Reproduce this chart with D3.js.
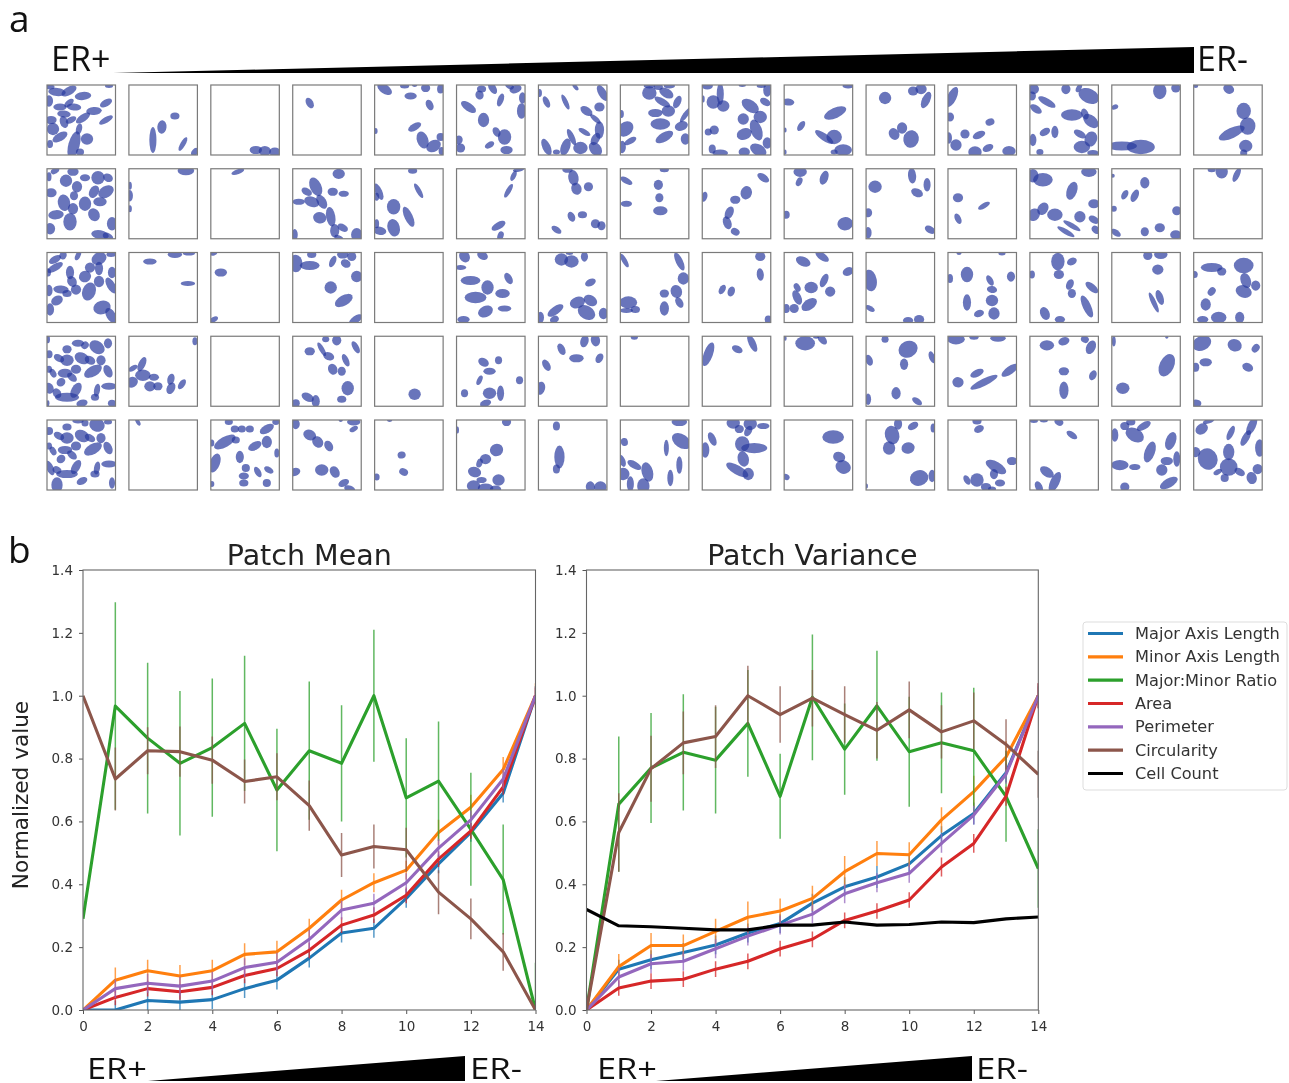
<!DOCTYPE html>
<html>
<head>
<meta charset="utf-8">
<script src="https://cdn.jsdelivr.net/npm/d3@7"></script>
<style>
    body { margin: 0; background: #fff; }
    svg { display: block; filter: blur(0.4px); }
    .tickText { font-family: "DejaVu Sans"; font-size: 13.5px; fill: #333; }
    .plotTitle { font-family: "DejaVu Sans"; font-size: 28.5px; fill: #222; }
    .yTitle { font-family: "DejaVu Sans"; font-size: 21.6px; fill: #222; }
    .legendText { font-family: "DejaVu Sans"; font-size: 16.2px; fill: #333; }
    .erText { font-family: "Open Sans"; font-size: 34px; fill: #111; }
    .erTextSmall { font-family: "Open Sans"; font-size: 30px; fill: #111; }
    .panelLetter { font-family: "Open Sans"; font-size: 37px; fill: #111; }
</style>
</head>
<body>
<div id="chart"></div>
<script>
'use strict';

// patch ellipses, one list per row, one list per patch: [cx, cy, semi axis a, semi axis b, rotation]
// in patch units (a patch is 70 units wide)
const patchRow0 = [
    [[10,7,8,3.5,5],[22,6,7.5,3.5,-30],[3,2,4,2,0],[2,16,3.5,5,0],[36,11,7.5,3.5,-5],[59,18,6,3,-30],[22,18,5,2.5,-40],[13,22,6,3,0],[27,22,6.5,3,5],[47,26,7,3.5,-5],[17,29,6,3,5],[36,33,7.5,3,-35],[24,35,5,2.5,-25],[17,37,5.5,3.5,70],[4,35,5,3.5,0],[59,35,7,2.5,-30],[6,44,5.5,5.5,0],[32,44,5,2.5,-75],[13,52,7.5,3.5,-30],[40,54,5.5,5,0],[27,60,13,5,-75],[3,59,2.5,3.5,0],[33,67,3.5,3,0],[62,1,3.5,1.5,0]],
    [[46,31,4,3,0],[33,42,4,6,5],[24,55,12,3,90],[54,59,7,2,-60],[66,67,4,2.5,-50]],
    [[45,65,5.5,3.5,0],[54,66,5.5,4.5,0],[64,67,5,4,0]],
    [[17,18,5,3,60]],
    [[10,4,7.5,4,35],[30,1,4,2,0],[40,0.5,2,1,0],[51,3,4,3.5,0],[66,4,3,4,0],[36,11,5.5,3,0],[55,20,5,3,65],[40,42,6.5,3,-30],[1,46,1.5,2.5,0],[48,55,8,5,70],[66,52,3.5,3.5,0],[59,61,7,5,-30],[67,66,2.5,3.5,0]],
    [[25,4,4,3,0],[36,3,6,3,60],[23,10,4,3.5,70],[53,1,4,2.5,30],[59,4,5.5,3.5,-20],[66,13,3,5,0],[12,22,8,3.5,35],[44,15,6,2.5,-70],[65,26,4,7,0],[27,35,5,6.5,0],[40,47,4.5,3,60],[48,52,6,7,0],[2,55,3.5,4,20],[4,63,4,4,0],[33,60,4.5,2.5,-30],[50,65,5.5,3.5,0]],
    [[37,2,3.5,1.5,50],[1,8,2,3.5,0],[8,17,5.5,2.5,65],[27,17,7.5,2,65],[64,8,8,3.5,60],[61,22,4.5,4,0],[48,26,6,3.5,35],[57,34,6,2,40],[61,45,8,4,90],[46,47,6,2,30],[33,52,8,2.5,65],[57,54,6,3.5,-60],[8,62,8,3.5,65],[27,62,8,4,-70],[18,67,3,2,0],[42,63,6.5,5.5,0],[57,64,7,5,50]],
    [[29,1,5,2,0],[38,2,4,2.5,0],[49,1,5,2,0],[29,8,6.5,6,0],[46,8,7,4,30],[42,17,8,3,30],[57,17,6,3,-65],[35,28,6.5,3.5,0],[48,26,6,5,0],[1,29,2,3.5,0],[65,30,8,2,-55],[40,39,9,5,0],[61,41,6,4,-20],[5,44,8,6,-40],[44,52,9,4,-30],[65,54,4,5,0],[10,56,6,2.5,-30],[2,62,3,5.5,0]],
    [[5,1,5,3,0],[18,9,10,3,90],[11,17,6,6,0],[21,21,5.5,5,0],[1,14,1,3,0],[40,0.5,3,1,0],[59,1,4,1.5,0],[65,5,3.5,6,0],[63,17,5,3,30],[48,21,9,5,35],[41,34,5,5,0],[58,32,6,5.5,0],[54,45,10,5,70],[42,49,7,5,-20],[6,47,3,3,0],[12,45,4,4,0],[65,58,4,5,0],[10,64,3,4,0],[18,68,7,3,0],[42,67,5,4,0],[56,65,8,5,30]],
    [[64,1,5,2,0],[4,17,5.5,3,5],[51,28,11,4.5,-25],[17,41,5,2.5,-55],[1,45,1,2,0],[40,52,10,3,35],[50,52,7,6.5,0],[59,65,8,5,0],[50,67,3,2,0],[1,67,1,2,0]],
    [[19,13,5.5,5.5,0],[47,6,4.5,4,0],[55,4,5,4.5,0],[60,15,8,3.5,-65],[28,49,5.5,4.5,60],[36,43,4.5,5,0],[45,54,7,8,10]],
    [[4,12,10,4,-65],[2,32,3.5,4,0],[42,37,4,3,-20],[17,49,4,4,0],[31,50,6,3,-25],[1,53,2.5,5,0],[8,60,5,5,0],[27,67,6,5,0],[40,63,5,3,-25],[61,66,6,4.5,0]],
    [[4,4,4.5,4.5,0],[36,4,4,4.5,0],[49,3,4,2,-60],[59,11,10,6.5,25],[2,11,3.5,4,0],[17,17,9,3,30],[6,24,6,3,35],[42,30,10,5,0],[55,29,3,5,-20],[61,36,8,5,40],[15,47,5,3,-30],[25,47,3,5.5,0],[50,49,6,3,30],[61,54,5.5,7,20],[3,55,3,5.5,0],[52,62,7.5,5.5,0],[10,67,3,2.5,0],[63,68,5,2.5,0]],
    [[48,6,6,7.5,0],[64,3,4,4,0],[3,22,3,2,-20],[10,61,14,4,0],[29,62,13,6.5,0]],
    [[2,1,2,1.5,0],[35,4,5,4,30],[50,26,6.5,7.5,0],[54,41,7,8,0],[38,48,13,4.5,-25],[52,61,6,5.5,0],[50,68,3,3,0]]
];
const patchRow1 = [
    [[8,2,4,2.5,-30],[26,3,5,3.5,0],[2,8,2,4,0],[19,12,5.5,5.5,0],[38,9,4.5,3,0],[51,9,6,6,0],[61,9,4.5,3.5,30],[4,24,5,4,0],[30,18,4.5,5,0],[27,27,3.5,4,0],[47,23,6,4,-60],[59,23,7.5,5,-30],[17,34,5.5,7.5,-10],[38,35,5.5,6.5,0],[53,33,6,4,0],[26,40,4.5,5,0],[47,46,6,5,60],[9,46,7,4,-5],[23,53,6,8,0],[65,55,4.5,6,0],[3,60,4.5,5,0],[53,66,8,4,10],[61,68,5,3,30]],
    [[1,17,1.5,3.5,0],[1,27,2.5,5,0],[1,40,1.5,3,0],[57,2,7.5,4,0]],
    [[27,3,6,2,-20]],
    [[46,5,5.5,4.5,0],[23,18,9,5,65],[14,23,5,3,30],[40,23,4.5,3.5,0],[51,25,4.5,2.5,0],[6,33,5.5,2.5,0],[19,33,7,4.5,20],[29,33,7,4,60],[27,49,6,5,15],[38,48,9,4,80],[42,62,4,6,0],[50,59,5,3,30],[64,66,5,6,0],[2,66,2.5,5,0],[46,69,4,2,20]],
    [[38,2,4,2.5,0],[44,22,7.5,2,60],[4,23,8,3,65],[2,28,2,3.5,0],[19,38,6,7,0],[34,48,10,3.5,65],[2,55,2,4,0],[5,62,6,3.5,10],[19,59,5.5,8,-15]],
    [[62,1,5,1.5,-10],[57,7,5,2,-65],[52,22,7,2,-60],[42,57,7,3,-30],[44,67,4,2.5,-70]],
    [[29,1,4.5,2.5,0],[35,9,7,4.5,80],[38,20,5.5,4.5,70],[50,18,4,4,0],[33,48,4.5,3,65],[44,46,4,3,0],[57,55,4,4,0],[63,57,3.5,4,0],[18,61,5,2.5,35]],
    [[44,1,4,2,0],[6,12,6,2.5,30],[38,16,4,4.5,0],[39,29,3.5,4,0],[6,35,5,2.5,0],[40,42,6.5,4,0]],
    [[61,9,6,3,35],[44,24,5,6,15],[33,31,4.5,3.5,0],[2,28,2.5,4.5,15],[27,44,6,3.5,-65],[25,54,6,3.5,70],[33,63,4,3,30]],
    [[16,3,6,4.5,0],[15,13,4,2.5,-65],[40,9,6.5,3.5,-70],[2,46,3,3.5,0],[61,55,7,6,-10]],
    [[46,7,7,3.5,85],[61,16,6,3,90],[9,18,6,5.5,0],[51,24,5.5,3.5,25],[2,44,3.5,4,0],[64,61,5,3,30],[2,64,3,5,0]],
    [[10,29,4.5,4,0],[36,37,6,2,-30],[10,50,5,2.5,65]],
    [[3,7,5,6,0],[13,11,9,6,0],[59,3,7,4.5,0],[42,22,8.5,4.5,-70],[64,35,5,4,0],[13,40,6,4.5,-55],[4,46,6,5,-50],[25,46,7,5.5,0],[50,48,5,5,0],[64,51,5,3,30],[42,57,9,2,30],[36,63,9,2,30],[66,61,4,3,40]],
    [[1,7,1.5,1.5,0],[33,14,4,5,0],[13,26,4.5,2.5,-60],[23,27,6,3,-65],[2,40,2.5,2.5,0],[65,42,4,4,0],[48,59,4.5,4,0],[33,63,3.5,4,0],[4,64,5,2.5,35],[64,66,5,4,0]],
    [[18,1,3.5,2,0],[28,3,5.5,6,0],[43,6,7,2.5,-65]]
];
const patchRow2 = [
    [[16,3,3,3.5,20],[31,3,4.5,2,-65],[8,7,6,3,-30],[8,15,8,3,-30],[1,20,2.5,3.5,0],[52,6,7,5.5,-30],[64,2,4,2,0],[43,15,4.5,4.5,0],[52,16,3.5,6,0],[65,20,3.5,5,0],[23,20,3.5,6,0],[25,29,5,4,60],[38,24,5.5,5,-30],[52,29,4.5,5,0],[64,33,8,3.5,60],[14,37,7,3.5,5],[20,41,4,3,0],[29,37,4.5,4.5,0],[2,38,3,5,0],[42,39,8.5,6,-70],[10,48,5.5,4,-30],[3,57,3.5,5.5,0],[55,55,8,6,-15],[64,63,7.5,4,60]],
    [[21,9,6,2.5,0],[46,2,6.5,3,0],[60,1,5.5,1.5,0],[59,31,6.5,2,0]],
    [[3,1,3,1.5,-15],[10,20,5.5,3.5,0],[3,67,4,2,-30]],
    [[3,11,6,8,0],[17,13,9,4,0],[19,2,4,3,0],[40,9,5.5,2.5,-65],[50,2,5,3.5,0],[53,11,4.5,3.5,30],[59,4,4,4,0],[64,24,5,5,0],[38,35,5.5,5.5,0],[51,48,9,4.5,-30],[63,67,7,3,-35]],
    [],
    [[8,4,5.5,4.5,60],[26,3,5,3.5,30],[4,15,5,2,0],[14,28,9,4,0],[31,35,5.5,6.5,0],[52,26,5.5,3,60],[46,41,6.5,4,0],[19,45,10,5,0],[29,59,7,5,-25],[48,56,6,2.5,0],[7,67,5.5,3,0]],
    [[23,7,6,5.5,0],[33,9,6.5,5.5,0],[46,4,3,4.5,0],[31,1,3,1,0],[52,30,5,3,-25],[39,50,7,5,-20],[52,48,6.5,4.5,30],[48,60,8.5,6,30],[17,58,8.5,3.5,-35],[65,61,4,5,0],[2,65,3,5,0],[16,67,4,3,-30]],
    [[4,8,7,2,60],[59,9,9,3,65],[63,26,5,5.5,0],[56,39,6,5,70],[44,41,4,3.5,0],[59,50,5,3,60],[44,56,4,6.5,0],[8,50,8,5.5,0],[6,58,6,2,0],[15,57,4,3,0]],
    [[58,4,4.5,4,0],[58,22,5.5,3,85],[20,37,4.5,2.5,-60],[29,39,4.5,3,-70],[66,67,3,3.5,0]],
    [[19,9,7,4,25],[38,4,7,3,35],[40,28,6.5,3,-65],[64,19,5,3.5,-25],[13,35,4,2.5,60],[27,35,6,5,0],[46,39,4.5,4.5,0],[13,45,7,3.5,65],[25,52,8,4.5,-35],[10,56,4,4,0],[2,56,3,4,0]],
    [[4,28,10,6,80],[4,56,4.5,2,30],[42,68,4.5,3,0],[53,67,4.5,4,0]],
    [[11,1,2,1,0],[54,1,3,1.5,0],[2,26,2.5,4,0],[19,22,5.5,7,0],[42,28,5,2.5,60],[44,37,4.5,3,10],[63,24,3.5,4.5,0],[44,48,5.5,5,0],[19,50,7.5,3.5,90],[31,61,4.5,3,-20],[46,61,5,5.5,0]],
    [[28,9,6,8,0],[42,9,4.5,3,-25],[2,22,2.5,3.5,0],[29,22,4.5,4,0],[40,32,5,3,-65],[42,41,3.5,4,0],[62,35,7,3,40],[57,54,11,3.5,65],[15,61,6,4,65],[30,67,4.5,3,0]],
    [[36,3,4,4,0],[49,2,6,4,0],[46,17,5,4.5,0],[48,45,7,3,70],[42,50,10,2,65]],
    [[18,15,10,4,0],[28,19,4,3.5,0],[50,13,9,7,0],[1,22,2.5,3,0],[52,28,7,4.5,70],[62,33,4,4.5,0],[50,39,7.5,5.5,20],[18,39,4,3,-50],[12,52,4.5,5.5,0],[25,65,7,5,0],[9,67,5,3,0],[46,65,4,5,0]]
];
const patchRow3 = [
    [[1,3,1.5,3.5,0],[31,7,5.5,3,0],[38,9,3.5,3,-50],[50,11,7.5,5.5,35],[61,7,3.5,4.5,0],[20,13,4,3.5,0],[2,18,3,3.5,0],[12,22,5,3,30],[20,24,6,5,0],[35,22,7,5,25],[43,24,5,3.5,30],[54,24,4,4.5,0],[29,33,4.5,4,0],[46,35,9,4.5,-30],[61,35,6,3.5,65],[2,33,2.5,3,0],[6,37,4,2.5,60],[18,37,6.5,4,0],[25,41,5,3,40],[14,46,4,3.5,-40],[2,52,5,4,70],[10,57,4.5,3.5,60],[29,54,7.5,4,-60],[20,61,11,4,0],[50,54,6,2.5,-80],[48,61,3.5,3,0],[62,50,7,3,0],[35,67,5,3,-15],[65,67,3.5,3,0],[1,67,1,2.5,0]],
    [[66,5,2,3.5,0],[13,28,7,3,-65],[4,32,4.5,2,-30],[14,39,7,5,0],[25,41,4.5,3,0],[3,46,5.5,4.5,-30],[21,50,5,4.5,0],[29,50,4,3.5,0],[42,43,5,3,-75],[42,52,5.5,3.5,-65],[53,48,5,2.5,-55]],
    [],
    [[33,3,3,2.5,0],[44,4,4,4.5,0],[17,15,4.5,3.5,0],[29,13,7,2,60],[36,20,5,3.5,20],[63,11,6,2.5,60],[53,24,6,2.5,65],[40,33,5,4,65],[49,35,3.5,4,0],[55,52,5.5,6.5,0],[49,63,4,3,0],[15,61,6,3.5,30],[23,65,3.5,5.5,0],[3,67,3.5,3.5,0]],
    [[40,58,5.5,5,0]],
    [[27,26,5,3.5,30],[42,24,3,3.5,0],[33,35,5.5,3,0],[23,44,4.5,2,-65],[63,44,3,3.5,0],[8,57,3,3.5,0],[33,57,6,5,0],[44,57,7,3,90],[29,67,5,3,-20]],
    [[46,5,5.5,3.5,-75],[57,4,5.5,4,80],[23,13,5.5,3,65],[38,22,6.5,3.5,0],[61,22,4.5,3,-60],[8,29,5.5,3,60],[2,52,4,6,15]],
    [[14,1,3,2,0]],
    [[6,18,11.5,4,-70],[35,13,5,3,25],[50,7,8.5,3,65]],
    [[21,7,9,6.5,0],[1,2,1,2,0],[38,3,5.5,3,50],[32,1,2.5,1,0]],
    [[19,3,3,3,0],[42,13,9,7.5,-25],[38,28,3.5,5,0],[3,24,5,3,70],[66,21,5.5,2.5,70],[30,57,4,5.5,0],[2,63,2.5,5,0],[51,65,5,2.5,35]],
    [[8,3,8,4.5,0],[26,1,4,2,0],[50,2,7,3,0],[29,37,6.5,3,-25],[10,46,5,4.5,10],[36,46,14,3,-27],[62,34,9,3.5,-35]],
    [[17,9,6.5,4.5,0],[34,5,5,3.5,-20],[55,3,3.5,3,30],[61,11,6.5,4,-65],[34,35,4.5,3.5,0],[63,39,4.5,3,-65],[34,54,8,4,90]],
    [[2,5,1.5,4.5,0],[55,29,11,6.5,-65],[11,52,6,5,0],[55,1,1,1,0]],
    [[8,7,9,6.5,-25],[41,9,6.5,5.5,20],[62,12,4,3,-50],[12,26,5.5,3.5,0],[54,31,5,3.5,25],[2,31,3,4,0],[3,67,4,3,10]]
];
const patchRow4 = [
    [[2,11,3.5,3.5,0],[12,16,5,3,30],[20,18,6,5,0],[20,7,4,3,0],[31,1,5,2,0],[38,3,3,3,0],[50,5,7,6,20],[61,2,3.5,2,0],[35,16,7,5,30],[43,18,5,3,30],[54,18,4,4.5,0],[29,26,4.5,4,0],[46,29,9,4.5,-30],[61,28,6,3.5,65],[2,26,2.5,3,0],[6,31,4,2.5,60],[18,30,6.5,3.5,0],[25,35,5,3,40],[14,39,4,3.5,-40],[3,48,7,3,65],[10,50,4,3,30],[20,54,10,3.5,0],[29,47,7,3.5,-60],[50,48,6,2.5,-80],[48,54,4,3,0],[62,44,7,3,0],[35,61,5,3,-25],[65,63,5,2.5,90],[10,65,5,7,0]],
    [[9,2,3.5,1.5,60]],
    [[18,2,3.5,2.5,0],[24,9,3.5,3,0],[31,9,3.5,3,0],[39,9,3.5,3,0],[56,9,7,3.5,-30],[65,2,3,2.5,0],[14,22,11,4.5,-30],[25,20,3.5,3,0],[1,23,2,3,0],[56,22,4.5,5.5,0],[44,26,6.5,3.5,-30],[66,33,2,4,0],[4,43,9,4.5,-70],[29,37,3.5,5.5,0],[35,48,3.5,3.5,0],[47,52,5,2.5,60],[58,50,4.5,2.5,30],[33,56,4.5,3,0],[33,63,4,3,0],[56,63,3.5,3.5,0],[1,64,2,2.5,0]],
    [[3,4,3.5,4.5,0],[17,15,6,4.5,25],[25,22,5.5,4.5,50],[36,26,5,3.5,60],[61,2,6,3,0],[61,9,4,2,-30],[48,0.5,1.5,1,0],[29,50,6,5,0],[42,52,5.5,4,60],[2,52,5,3.5,-20],[51,63,5,3,-25],[57,69,5,3,20]],
    [[15,0.5,2,1,0],[27,35,3.5,3,-10],[29,52,4,3,25],[2,57,2.5,3,0]],
    [[1,10,1,3,0],[50,2,4,3.5,0],[40,30,6,5.5,-20],[29,39,5,4.5,0],[23,43,2.5,4,20],[18,52,6,4.5,15],[42,60,5.5,5,0],[25,60,4.5,2.5,0],[17,66,6,5,0],[29,68,7,4,0],[39,69,5,3,0]],
    [[18,6,3,4,0],[21,37,10.5,4.5,90],[18,49,3,4,0],[52,67,4,5,-10],[62,67,5.5,5,0]],
    [[59,2,7,3.5,0],[61,21,9.5,6,35],[4,22,3,3.5,-10],[46,28,7.5,2,90],[59,45,8,2.5,90],[2,41,5.5,2.5,70],[14,45,7,3,30],[27,52,9,5,75],[3,54,5.5,5.5,0],[50,58,7.5,2.5,90],[10,64,7,3,90],[23,66,5.5,7,0]],
    [[31,3,6,5,0],[37,9,4,3.5,0],[48,4,6,5.5,0],[46,11,5,3,-60],[61,6,5.5,2.5,0],[10,19,6.5,3,65],[3,30,3.5,7,0],[40,24,6.5,7,0],[52,28,12,4.5,0],[41,39,7,5,75],[35,50,11.5,4,30],[46,54,5,5.5,0]],
    [[49,17,10,6,0],[55,37,5.5,4.5,20],[59,47,7,6,25],[2,57,3,2.5,30]],
    [[32,4,3.5,5,0],[47,6,5,3,-30],[67,8,2,4,0],[26,15,6.5,8.5,-15],[23,28,5.5,6,0],[42,28,6,5,-15],[53,58,8.5,7,-15],[66,56,3,5.5,0],[0.5,66,1,2,0]],
    [[29,1,4,3,0],[31,9,4.5,3,-25],[48,47,10.5,4.5,30],[46,54,3.5,4.5,0],[64,41,4.5,3.5,0],[19,60,4.5,2.5,60],[29,60,6,6,0],[52,63,4.5,3,0],[38,67,4.5,3.5,0],[44,69,3.5,2,0]],
    [[4,1,3.5,1.5,0],[14,0.5,3.5,1.5,0],[29,2,4,3,30],[42,15,5.5,2.5,35],[17,52,7,4,35],[25,62,10,4,-65],[9,67,5.5,3,65]],
    [[3,15,3,6,0],[13,6,4,3.5,0],[19,2,4,3,0],[32,6,7,3,-30],[23,15,9,6,30],[38,32,10,4.5,-70],[59,21,8.5,4.5,-70],[8,45,8,4.5,0],[23,47,5,2.5,0],[55,41,5.5,3.5,0],[50,50,5,5,0],[65,39,7,3,90],[57,63,9,4,-30],[13,67,4,4,0]],
    [[8,9,6,4.5,-35],[15,1,5.5,2,-20],[37,13,7,2.5,-65],[58,6,9,3.5,-65],[52,18,8,3,-60],[14,39,9,10,-20],[35,32,5,7.5,0],[35,47,8,8,0],[2,32,4,4.5,0],[24,52,4,2,-30],[46,52,5,3,30],[31,58,3.5,3.5,0],[58,58,4.5,5.5,-15],[64,49,4.5,4.5,0],[66,28,4,8,0]]
];
const patchRows = [patchRow0, patchRow1, patchRow2, patchRow3, patchRow4];

// line charts
const seriesNames = ['Major Axis Length', 'Minor Axis Length', 'Major:Minor Ratio', 'Area', 'Perimeter', 'Circularity', 'Cell Count'];
const seriesColors = ['#1f77b4', '#ff7f0e', '#2ca02c', '#d62728', '#9467bd', '#8c564b', '#000000'];
const xTicks = [0, 2, 4, 6, 8, 10, 12, 14];
const yTicks = [0, 0.2, 0.4, 0.6, 0.8, 1.0, 1.2, 1.4];

const meanValues = [
    [0, 0, .03, .025, .033, .068, .095, .165, .245, .26, .355, .465, .565, .69, 1],
    [0, .095, .125, .108, .125, .177, .185, .26, .35, .405, .445, .565, .645, .765, 1],
    [.29, .967, .865, .785, .835, .912, .70, .825, .785, 1, .675, .728, .575, .415, 0],
    [0, .04, .068, .058, .072, .11, .132, .19, .27, .302, .365, .48, .57, .71, 1],
    [0, .068, .085, .076, .092, .135, .152, .225, .318, .34, .405, .515, .605, .735, 1],
    [1, .735, .825, .822, .795, .727, .742, .65, .493, .52, .51, .375, .29, .185, 0]
];
const meanErrors = [
    [0, .03, .03, .03, .03, .03, .03, .03, .03, .03, .03, .03, .03, .03, .03],
    [0, .04, .035, .035, .035, .035, .035, .03, .033, .03, .03, .04, .04, .04, .04],
    [0, .33, .24, .23, .22, .215, .195, .22, .185, .21, .19, .19, .18, .175, .15],
    [0, .025, .025, .025, .025, .025, .025, .025, .025, .025, .025, .025, .025, .025, .025],
    [0, .03, .03, .03, .03, .03, .03, .03, .03, .03, .03, .03, .03, .03, .03],
    [0, .10, .075, .08, .075, .07, .075, .08, .07, .07, .07, .07, .065, .06, 0]
];
const varianceValues = [
    [0, .13, .16, .183, .207, .245, .275, .34, .392, .423, .465, .555, .625, .755, 1],
    [0, .138, .205, .205, .25, .295, .315, .355, .44, .498, .494, .605, .695, .805, 1],
    [0, .655, .77, .82, .795, .912, .68, .995, .83, .968, .822, .85, .825, .68, .45],
    [0, .07, .092, .098, .13, .155, .195, .225, .285, .315, .35, .455, .53, .68, 1],
    [0, .105, .147, .155, .195, .235, .27, .305, .37, .405, .435, .53, .62, .75, 1],
    [0, .565, .768, .85, .87, 1, .94, .992, .94, .89, .955, .885, .92, .845, .75],
    [.32, .268, .265, .26, .255, .255, .27, .27, .28, .27, .272, .28, .278, .29, .296]
];
const varianceErrors = [
    [0, .03, .03, .03, .03, .03, .03, .03, .03, .035, .03, .03, .035, .03, .03],
    [0, .04, .04, .035, .04, .05, .04, .04, .05, .04, .04, .04, .05, .05, .04],
    [0, .215, .175, .185, .17, .17, .135, .2, .145, .175, .175, .16, .2, .145, .125],
    [0, .025, .025, .025, .025, .025, .025, .025, .025, .025, .025, .03, .03, .03, .04],
    [0, .03, .03, .03, .03, .03, .03, .03, .03, .03, .03, .03, .03, .03, .04],
    [0, .125, .105, .1, .1, .095, .09, .09, .09, .09, .09, .085, .09, .08, .075],
    [0, 0, 0, 0, 0, 0, 0, 0, 0, 0, 0, 0, 0, 0, 0]
];

const svg = d3.select('#chart').append('svg')
    .attr('width', 1289)
    .attr('height', 1083);

// Add text helper
function addText(sel, str, x, y, cls, anchor) {
    return sel.append('text')
        .attr('class', cls)
        .attr('x', x)
        .attr('y', y)
        .attr('text-anchor', anchor || 'start')
        .text(str);
}

// wedge only
function addWedge(tipX, endX, topY, bottomY) {
    const wedge = d3.path();
    wedge.moveTo(tipX, bottomY);
    wedge.lineTo(endX, topY);
    wedge.lineTo(endX, bottomY);
    wedge.closePath();
    svg.append('path').attr('d', wedge.toString()).attr('fill', '#000');
}

// the lower labels are squashed in the original, so stretch them to width
function addWideText(str, x, y, w) {
    addText(svg, str, x, y, 'erTextSmall')
        .attr('textLength', w)
        .attr('lengthAdjust', 'spacingAndGlyphs');
}

addText(svg, 'a', 9, 32, 'panelLetter');
addText(svg, 'b', 8, 563, 'panelLetter');

addWedge(113, 1194, 47, 73);
addText(svg, 'ER+', 51, 71, 'erText');
addText(svg, 'ER-', 1197, 71, 'erText');

addWedge(148, 465, 1056, 1081);
addWideText('ER+', 87, 1079, 60);
addWideText('ER-', 470, 1079, 52);

addWedge(656, 972, 1056, 1081);
addWideText('ER+', 597, 1079, 60);
addWideText('ER-', 976, 1079, 52);

//------------------------------------------------------------
// patch grid
//------------------------------------------------------------
const colScale = d3.scaleLinear().domain([0, 14]).range([47, 1193.7]);
const rowScale = d3.scaleLinear().domain([0, 4]).range([85, 420]);
const unitScale = d3.scaleLinear().domain([0, 70]).range([0, 70]);
// the axes read a little short once the blur of the original is taken into account
const axisScale = d3.scaleLinear().domain([0, 10]).range([0.4, 10.9]);
const patchW = 68.5;
const patchH = 70;

patchRows.forEach((row, r) => {
    row.forEach((cells, c) => {
        const clipId = `patch-${r}-${c}`;
        const g = svg.append('g')
            .attr('transform', `translate(${colScale(c)},${rowScale(r)})`);

        g.append('clipPath').attr('id', clipId)
            .append('rect').attr('width', patchW).attr('height', patchH);

        g.append('g').attr('clip-path', `url(#${clipId})`)
            .selectAll('ellipse')
            .data(cells)
            .join('ellipse')
            .attr('rx', d => axisScale(d[2]))
            .attr('ry', d => axisScale(d[3]))
            .attr('transform', d => `translate(${unitScale(d[0])},${unitScale(d[1])}) rotate(${d[4]})`)
            .attr('fill', '#2a3a9e')
            .attr('fill-opacity', 0.7);

        g.append('rect')
            .attr('width', patchW)
            .attr('height', patchH)
            .attr('fill', 'none')
            .attr('stroke', '#7a7a7a')
            .attr('stroke-width', 1.2);
    });
});

//------------------------------------------------------------
// line plots
//------------------------------------------------------------
function drawPlot(id, title, left, right, values, errors) {
    const top = 570;
    const bottom = 1010;
    const x = d3.scaleLinear().domain([0, 14]).range([left, right]);
    const y = d3.scaleLinear().domain([0, 1.4]).range([bottom, top]);

    svg.append('clipPath').attr('id', id)
        .append('rect')
        .attr('x', left).attr('y', top)
        .attr('width', right - left).attr('height', bottom - top);

    const plotG = svg.append('g').attr('clip-path', `url(#${id})`);
    const line = d3.line().x((d, i) => x(i)).y(d => y(d));

    values.forEach((vals, s) => {
        const color = seriesColors[s];

        plotG.append('g').selectAll('line')
            .data(vals.map((v, i) => ({i: i, v: v, e: errors[s][i]})).filter(d => d.e > 0))
            .join('line')
            .attr('x1', d => x(d.i))
            .attr('x2', d => x(d.i))
            .attr('y1', d => y(d.v - d.e))
            .attr('y2', d => y(d.v + d.e))
            .attr('stroke', color)
            .attr('stroke-opacity', 0.75)
            .attr('stroke-width', 1.5);

        plotG.append('path')
            .attr('d', line(vals))
            .attr('fill', 'none')
            .attr('stroke', color)
            .attr('stroke-width', 3.1)
            .attr('stroke-linejoin', 'round');
    });

    const xAxis = svg.append('g')
        .attr('transform', `translate(0,${bottom})`)
        .call(d3.axisBottom(x).tickValues(xTicks).tickFormat(d3.format('d')).tickSize(4).tickPadding(7));
    const yAxis = svg.append('g')
        .attr('transform', `translate(${left},0)`)
        .call(d3.axisLeft(y).tickValues(yTicks).tickFormat(d3.format('.1f')).tickSize(4).tickPadding(6));

    [xAxis, yAxis].forEach(a => {
        a.attr('font-family', null).attr('font-size', null);
        a.selectAll('text').attr('class', 'tickText');
        a.selectAll('line').attr('stroke', '#555');
        a.select('.domain').remove();
    });

    svg.append('rect')
        .attr('x', left).attr('y', top)
        .attr('width', right - left).attr('height', bottom - top)
        .attr('fill', 'none')
        .attr('stroke', '#666')
        .attr('stroke-width', 1.1);

    addText(svg, title, (left + right) / 2, 565, 'plotTitle', 'middle');
}

drawPlot('clipMean', 'Patch Mean', 83, 535.5, meanValues, meanErrors);
drawPlot('clipVariance', 'Patch Variance', 586.5, 1038.3, varianceValues, varianceErrors);

svg.append('text')
    .attr('class', 'yTitle')
    .attr('transform', 'translate(28,795) rotate(-90)')
    .attr('text-anchor', 'middle')
    .text('Normalized value');

//------------------------------------------------------------
// legend
//------------------------------------------------------------
const legendY = d3.scaleLinear().domain([0, 6]).range([633.5, 773.5]);
const legendG = svg.append('g');

legendG.append('rect')
    .attr('x', 1083).attr('y', 622)
    .attr('width', 204).attr('height', 168)
    .attr('rx', 3)
    .attr('fill', '#fff')
    .attr('stroke', '#ddd');

seriesNames.forEach((name, i) => {
    legendG.append('line')
        .attr('x1', 1088).attr('x2', 1123)
        .attr('y1', legendY(i)).attr('y2', legendY(i))
        .attr('stroke', seriesColors[i])
        .attr('stroke-width', 3.1);
    addText(legendG, name, 1135, legendY(i) + 5.5, 'legendText');
});
</script>
</body>
</html>
